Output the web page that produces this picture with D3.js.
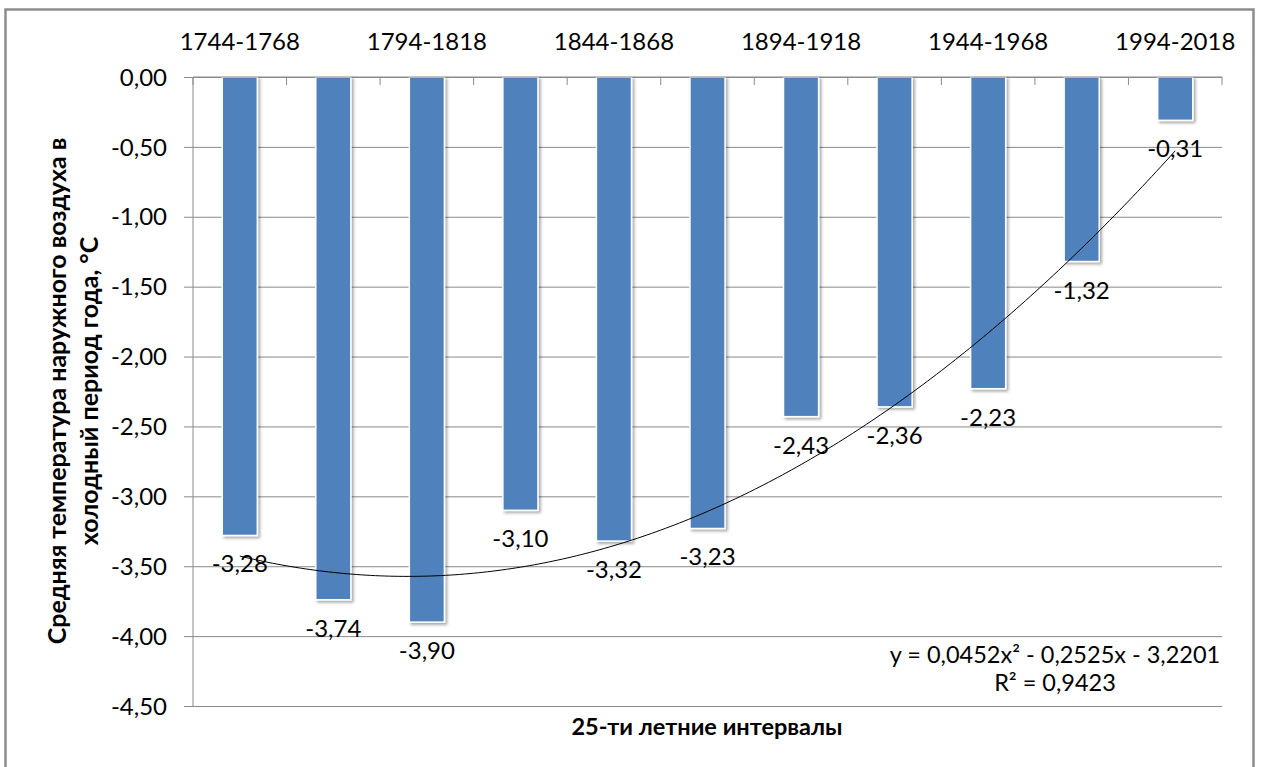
<!DOCTYPE html>
<html>
<head>
<meta charset="utf-8">
<script src="https://cdn.jsdelivr.net/npm/d3@7"></script>
<style>
  html, body { margin: 0; padding: 0; background: #fff; }
  svg { display: block; }
  .num { font-family: Lato, "Noto Sans", sans-serif; fill: #000; }
  .ttl { font-family: Lato, "Noto Sans", sans-serif; font-weight: bold; fill: #000; }
</style>
</head>
<body>
<svg id="chart" width="1263" height="767"></svg>
<script>
// 25-year intervals and mean outdoor temperature of the cold season, °C
const categories = ["1744-1768", "1769-1793", "1794-1818", "1819-1843", "1844-1868", "1869-1893",
                    "1894-1918", "1919-1943", "1944-1968", "1969-1993", "1994-2018"];
const values = [-3.28, -3.74, -3.90, -3.10, -3.32, -3.23, -2.43, -2.36, -2.23, -1.32, -0.31];
const yTicks = [0, -0.5, -1, -1.5, -2, -2.5, -3, -3.5, -4, -4.5];
// polynomial trend (order 2): a*x^2 + b*x + c, x = 1..11
const trendCoef = [0.0452, -0.2525, -3.2201];
const trendText = ["y = 0,0452x² - 0,2525x - 3,2201", "R² = 0,9423"];
const yTitle = ["Средняя температура наружного воздуха в", "холодный период года, °C"];
const xTitle = "25-ти летние интервалы";

const svg = d3.select("#chart");
const plot = { left: 193, right: 1222, top: 77, bottom: 706 };

const x = d3.scaleBand().domain(categories).range([plot.left, plot.right]).padding(0);
const y = d3.scaleLinear().domain([-4.5, 0]).range([plot.bottom, plot.top]);
const ru = d3.formatLocale({ decimal: ",", thousands: " ", grouping: [3], currency: ["", ""], minus: "-" });
const fmt = ru.format(".2f");

// outer frame
svg.append("rect").attr("x", 5.5).attr("y", 9.5).attr("width", 1248).attr("height", 780)
  .attr("fill", "none").attr("stroke", "#8c8c8c").attr("stroke-width", 2.5);

const defs = svg.append("defs");
const sh = defs.append("filter").attr("id", "shadow").attr("x", "-30%").attr("y", "-5%")
  .attr("width", "160%").attr("height", "115%");
sh.append("feDropShadow").attr("dx", 2).attr("dy", 2).attr("stdDeviation", 1.6)
  .attr("flood-color", "#000").attr("flood-opacity", 0.35);

// horizontal gridlines with outer tick stubs
const yAxis = d3.axisLeft(y).tickValues(yTicks).tickSize(-(plot.right - plot.left)).tickFormat("");
svg.append("g").attr("transform", `translate(${plot.left},0)`).call(yAxis)
  .call(g => g.select(".domain").remove())
  .call(g => g.selectAll("line").attr("stroke", "#8a8a8a").attr("x1", -9));
svg.append("line").attr("x1", plot.left).attr("x2", plot.left).attr("y1", plot.top).attr("y2", plot.bottom)
  .attr("stroke", "#8a8a8a");

// y tick labels
svg.append("g").selectAll("text").data(yTicks).join("text")
  .attr("class", "num").attr("x", 167).attr("y", d => y(d)).attr("dy", "0.36em")
  .attr("text-anchor", "end").attr("font-size", 24).text(d => fmt(d));

// bars
const barW = x.bandwidth() * 0.375;
svg.append("g").selectAll("rect").data(values).join("rect")
  .attr("x", (d, i) => x(categories[i]) + (x.bandwidth() - barW) / 2)
  .attr("y", y(0))
  .attr("width", barW)
  .attr("height", d => y(d) - y(0))
  .attr("fill", "#4f81bd").attr("stroke", "#fff").attr("stroke-width", 1.5)
  .attr("filter", "url(#shadow)");

// top category axis (value 0 line)
svg.append("line").attr("x1", plot.left).attr("x2", plot.right).attr("y1", y(0)).attr("y2", y(0))
  .attr("stroke", "#8a8a8a");
const bounds = categories.map(c => x(c)).concat([plot.right]);
svg.append("g").selectAll("line").data(bounds).join("line")
  .attr("x1", d => d).attr("x2", d => d).attr("y1", y(0)).attr("y2", y(0) + 8)
  .attr("stroke", "#8a8a8a");
svg.append("g").selectAll("text").data(categories.filter((c, i) => i % 2 === 0)).join("text")
  .attr("class", "num").attr("x", d => x(d) + x.bandwidth() / 2).attr("y", 50)
  .attr("text-anchor", "middle").attr("font-size", 24).text(d => d);

// trend line
const xi = d3.scaleLinear().domain([1, categories.length])
  .range([x(categories[0]) + x.bandwidth() / 2, x(categories[categories.length - 1]) + x.bandwidth() / 2]);
const trend = d3.range(1, categories.length + 0.001, 0.05)
  .map(t => [t, trendCoef[0] * t * t + trendCoef[1] * t + trendCoef[2]]);
svg.append("path").datum(trend)
  .attr("d", d3.line().x(d => xi(d[0])).y(d => y(d[1])))
  .attr("fill", "none").attr("stroke", "#000").attr("stroke-width", 1);

// data labels
svg.append("g").selectAll("text").data(values).join("text")
  .attr("class", "num").attr("x", (d, i) => x(categories[i]) + x.bandwidth() / 2)
  .attr("y", d => y(d) + 37).attr("text-anchor", "middle").attr("font-size", 24)
  .text(d => fmt(d));

// trend equation
svg.append("g").selectAll("text").data(trendText).join("text")
  .attr("class", "num").attr("x", 1055).attr("y", (d, i) => 663 + i * 28)
  .attr("text-anchor", "middle").attr("font-size", 23.5).text(d => d);

// axis titles
svg.append("text").attr("class", "ttl").attr("x", 707).attr("y", 735)
  .attr("text-anchor", "middle").attr("font-size", 23.5).text(xTitle);
svg.append("g").selectAll("text").data(yTitle).join("text")
  .attr("class", "ttl").attr("text-anchor", "middle").attr("font-size", 25)
  .attr("transform", (d, i) => `translate(${57 + i * 32},391) rotate(-90)`)
  .attr("dy", "0.35em").text(d => d);
</script>
</body>
</html>
